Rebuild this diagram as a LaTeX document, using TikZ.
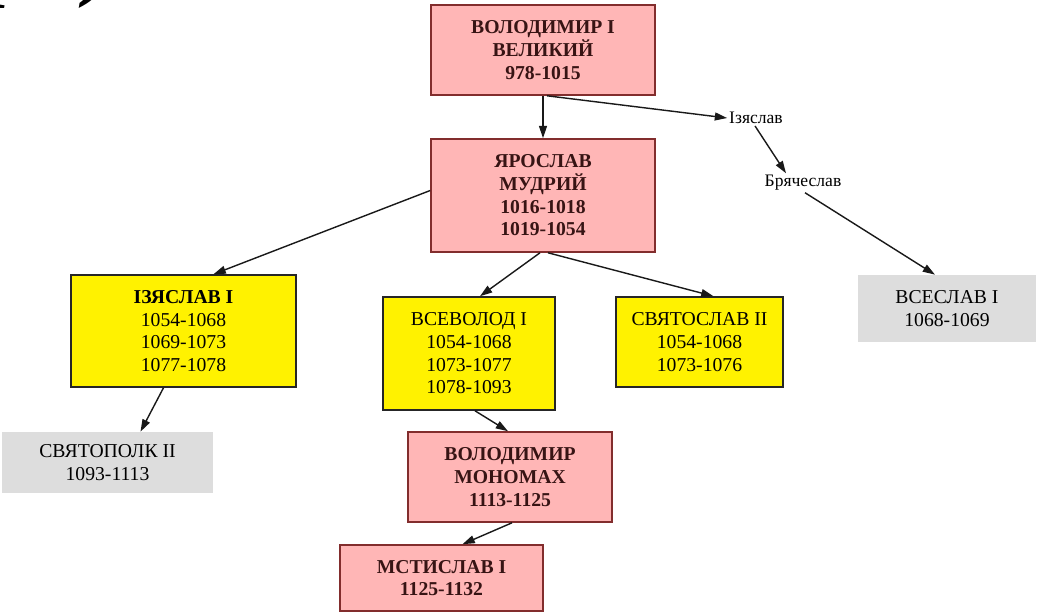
\documentclass[tikz,border=0pt]{standalone}
\usepackage{fontspec}
\setmainfont{Liberation Serif}
\usetikzlibrary{arrows.meta,calc}
\definecolor{pinkfill}{RGB}{255,182,182}
\definecolor{pinkdraw}{RGB}{130,45,45}
\definecolor{pinktext}{RGB}{55,20,20}
\definecolor{greyfill}{RGB}{221,221,221}
\definecolor{edgecol}{RGB}{25,25,25}
\begin{document}
\begin{tikzpicture}[x=0.02cm,y=-0.02cm,
  box/.style={rectangle, align=center, inner sep=0pt, font=\fontsize{11.2}{12.9}\selectfont},
  pinkbox/.style={box, fill=pinkfill, draw=pinkdraw, line width=0.9pt, text=pinktext, font=\fontsize{11.2}{12.9}\selectfont\bfseries},
  yellowbox/.style={box, fill=yellow, draw=black!85, line width=0.9pt},
  greybox/.style={box, fill=greyfill},
  lbl/.style={inner sep=1pt, font=\fontsize{10}{12}\selectfont},
  edge/.style={draw=edgecol, line width=0.8pt, -{Triangle[length=7pt,width=4.5pt]}},
  frag/.style={anchor=base, inner sep=0pt, font=\fontsize{48}{48}\selectfont\bfseries\itshape}]
\useasboundingbox (0,0) rectangle (1037,612);
\fill[white] (0,0) rectangle (1037,612);

% cut-off heading fragments at top left
\begin{scope}
  \clip (0,0) rectangle (140,14);
  \node[frag] (fragA) at (10,-10) {р};
  \node[frag] (fragB) at (100,-10) {)};
\end{scope}

% nodes
\node[pinkbox, minimum width=4.48cm, minimum height=1.8cm] (A) at (543,50) {ВОЛОДИМИР І\\ВЕЛИКИЙ\\978-1015};
\node[pinkbox, minimum width=4.48cm, minimum height=2.26cm] (B) at (543,195.5) {ЯРОСЛАВ\\МУДРИЙ\\1016-1018\\1019-1054};
\node[lbl] (izy) at (756,118) {Ізяслав};
\node[lbl] (brya) at (803,183) {Брячеслав};
\node[yellowbox, minimum width=4.5cm, minimum height=2.24cm] (iz1) at (183.5,331) {\textbf{ІЗЯСЛАВ І}\\1054-1068\\1069-1073\\1077-1078};
\node[yellowbox, minimum width=3.44cm, minimum height=2.26cm] (vsev) at (469,353.5) {ВСЕВОЛОД І\\1054-1068\\1073-1077\\1078-1093};
\node[yellowbox, minimum width=3.34cm, minimum height=1.8cm] (svt) at (699.5,342) {СВЯТОСЛАВ ІІ\\1054-1068\\1073-1076};
\node[greybox, minimum width=3.56cm, minimum height=1.34cm] (vses) at (947,308.5) {ВСЕСЛАВ І\\1068-1069};
\node[greybox, minimum width=4.22cm, minimum height=1.22cm] (svp) at (107.5,462.5) {СВЯТОПОЛК ІІ\\1093-1113};
\node[pinkbox, minimum width=4.08cm, minimum height=1.8cm] (mon) at (510,477) {ВОЛОДИМИР\\МОНОМАХ\\1113-1125};
\node[pinkbox, minimum width=4.06cm, minimum height=1.32cm] (mst) at (441.5,578) {МСТИСЛАВ І\\1125-1132};

% edges
\draw[edge] (A.south) -- (B.north);
\draw[edge] ($(A.south)+(4,0)$) -- (izy.west);
\draw[edge] ($(izy.south)+(-1,0)$) -- ($(brya.north)+(-17,0)$);
\draw[edge] ($(brya.south)+(2,0)$) -- ($(vses.north)+(-12,0)$);
\draw[edge] ($(B.west)+(0,-5)$) -- ($(iz1.north)+(30,0)$);
\draw[edge] ($(B.south)+(-3,0)$) -- ($(vsev.north)+(11,0)$);
\draw[edge] ($(B.south)+(5,0)$) -- ($(svt.north)+(14,0)$);
\draw[edge] ($(iz1.south)+(-20,0)$) -- ($(svp.north)+(33,0)$);
\draw[edge] ($(vsev.south)+(6,0)$) -- ($(mon.north)+(-2,0)$);
\draw[edge] ($(mon.south)+(2,0)$) -- ($(mst.north)+(21,0)$);
\end{tikzpicture}
\end{document}
